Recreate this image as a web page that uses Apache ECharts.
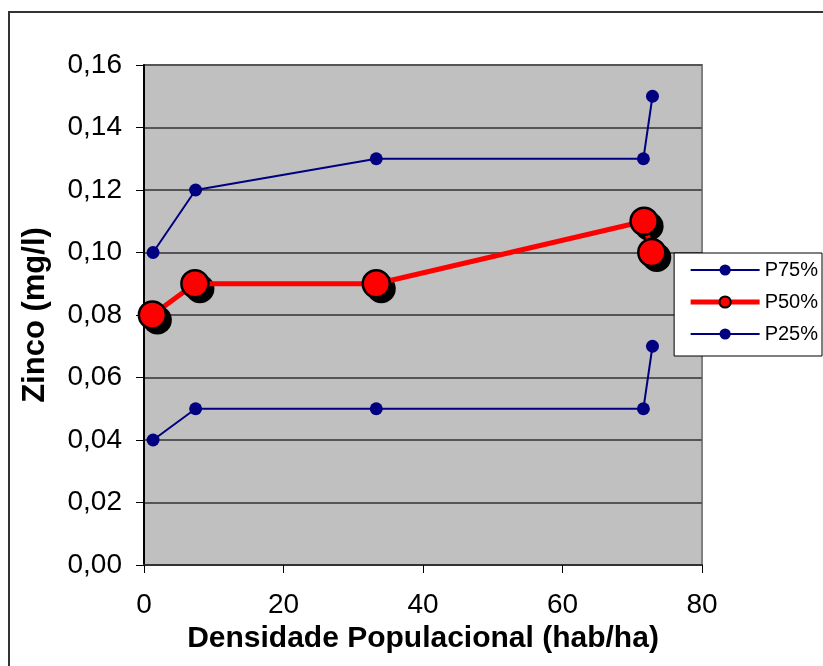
<!DOCTYPE html>
<html>
<head>
<meta charset="utf-8">
<script src="https://cdn.jsdelivr.net/npm/echarts@6/dist/echarts.min.js"></script>
<style>
  html, body { margin: 0; padding: 0; background: #fff; }
  #frame { position: absolute; left: 8px; top: 11px; width: 830px; height: 680px; border: 2px solid #333; box-sizing: border-box; }
  #chart { position: absolute; left: 0; top: 0; width: 823px; height: 666px; }
</style>
</head>
<body>
<div id="frame"></div>
<div id="chart"></div>
<script>
// Densidade populacional (hab/ha) for each point of the three percentile curves
const densP75 = [1.3, 7.4, 33.3, 71.6, 72.9];
const valP75  = [0.10, 0.12, 0.13, 0.13, 0.15];

const densP50 = [1.2, 7.3, 33.3, 71.7, 72.8];
const valP50  = [0.08, 0.09, 0.09, 0.11, 0.10];

const densP25 = [1.3, 7.4, 33.3, 71.6, 72.9];
const valP25  = [0.04, 0.05, 0.05, 0.05, 0.07];

const seriesNames = ['P75%', 'P50%', 'P25%'];
const xTicks = [0, 20, 40, 60, 80];

const pairs = (xs, ys) => xs.map((x, i) => [x, ys[i]]);
const comma = v => v.toFixed(2).replace('.', ',');

const chart = echarts.init(document.getElementById('chart'), null, { renderer: 'canvas' });

const navy = '#000080';
const font = 'Arial, "Liberation Sans", sans-serif';

chart.setOption({
  animation: false,
  backgroundColor: 'transparent',
  grid: { left: 144, right: 121, top: 65, bottom: 101, backgroundColor: '#c0c0c0', show: true, borderColor: '#808080', borderWidth: 2 },
  legend: {
    orient: 'vertical',
    right: 1, top: 253,
    itemWidth: 69, itemHeight: 14, itemGap: 12,
    padding: [7, 4, 12, 14],
    backgroundColor: '#fff', borderColor: '#000', borderWidth: 1,
    textStyle: { fontFamily: font, fontSize: 20, color: '#000', lineHeight: 20 },
    data: [
      { name: seriesNames[0], lineStyle: { width: 2 } },
      { name: seriesNames[1], lineStyle: { width: 5 } },
      { name: seriesNames[2], lineStyle: { width: 2 } }
    ]
  },
  xAxis: {
    type: 'value', min: 0, max: 80, interval: 20,
    name: 'Densidade Populacional (hab/ha)', nameLocation: 'middle', nameGap: 58,
    nameTextStyle: { fontFamily: font, fontSize: 30, fontWeight: 'bold', color: '#000' },
    axisLine: { show: true, onZero: false, lineStyle: { color: '#333', width: 2 } },
    axisTick: { show: true, inside: false, length: 8, lineStyle: { color: '#000', width: 1 } },
    axisLabel: { fontFamily: font, fontSize: 28, color: '#000', margin: 26, formatter: v => xTicks.includes(v) ? String(v) : '' },
    splitLine: { show: false }
  },
  yAxis: {
    type: 'value', min: 0, max: 0.16, interval: 0.02,
    name: 'Zinco (mg/l)', nameLocation: 'middle', nameGap: 93, nameRotate: 90,
    nameTextStyle: { fontFamily: font, fontSize: 31, fontWeight: 'bold', color: '#000' },
    axisLine: { show: true, onZero: false, lineStyle: { color: '#000', width: 2 } },
    axisTick: { show: true, inside: false, length: 8, lineStyle: { color: '#000', width: 1 } },
    axisLabel: { fontFamily: font, fontSize: 28, color: '#000', margin: 22, formatter: comma },
    splitLine: { show: true, lineStyle: { color: '#555', width: 2 } }
  },
  series: [
    {
      name: seriesNames[0], type: 'line', data: pairs(densP75, valP75),
      symbol: 'circle', symbolSize: 13,
      lineStyle: { color: navy, width: 2 },
      itemStyle: { color: navy, borderWidth: 0 }
    },
    {
      // solid drop shadow under the P50 markers
      name: 'P50-shadow', type: 'line', data: pairs(densP50, valP50), z: 2,
      symbol: 'circle', symbolSize: 29, symbolOffset: [5, 5],
      lineStyle: { width: 0, opacity: 0 },
      itemStyle: { color: '#000', borderWidth: 0 },
      silent: true
    },
    {
      name: seriesNames[1], type: 'line', data: pairs(densP50, valP50), z: 3,
      symbol: 'circle', symbolSize: 27,
      lineStyle: { color: '#ff0000', width: 5 },
      itemStyle: { color: '#ff0000', borderColor: '#000', borderWidth: 2.5 }
    },
    {
      name: seriesNames[2], type: 'line', data: pairs(densP25, valP25),
      symbol: 'circle', symbolSize: 13,
      lineStyle: { color: navy, width: 2 },
      itemStyle: { color: navy, borderWidth: 0 }
    }
  ]
});
</script>
</body>
</html>
